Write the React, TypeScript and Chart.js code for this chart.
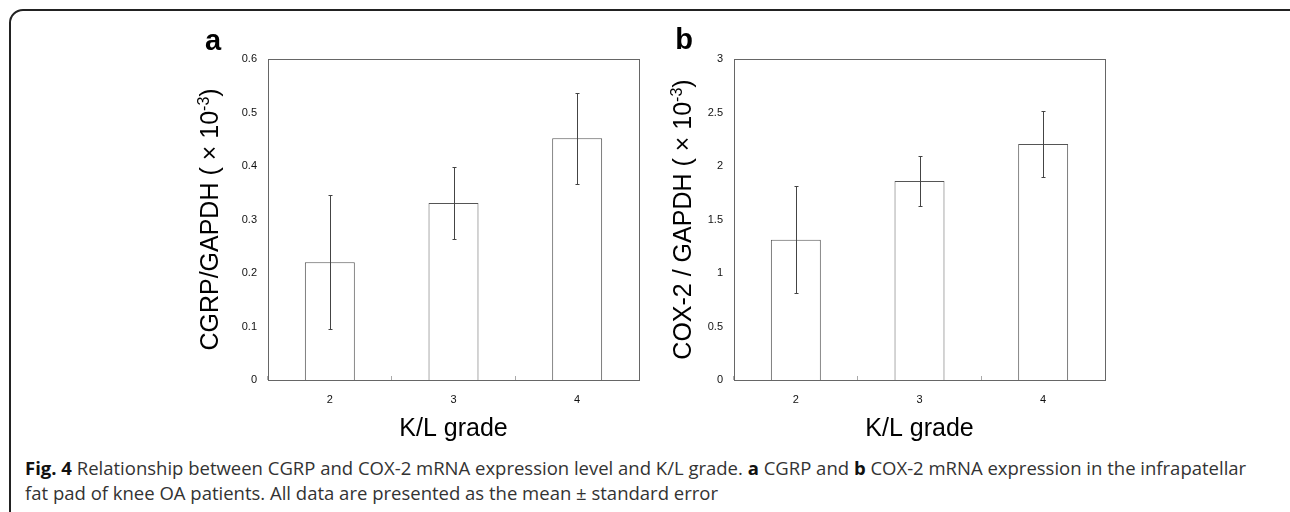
import React, { useEffect, useRef } from "react";
import { Chart, registerables } from "chart.js";

Chart.register(...registerables);

const categories = ["2", "3", "4"];
const cgrpMean = [0.22, 0.331, 0.452];
const cgrpErr = [0.125, 0.068, 0.085];
const cox2Mean = [1.31, 1.86, 2.205];
const cox2Err = [0.5, 0.23, 0.31];
const yTicksA = ["0", "0.1", "0.2", "0.3", "0.4", "0.5", "0.6"];
const yTicksB = ["0", "0.5", "1", "1.5", "2", "2.5", "3"];

const FONT = '"Liberation Sans", Arial, sans-serif';

const decorPlugin = {
  id: "decor",
  afterDatasetsDraw(chart: any, _args: any, opts: any) {
    const ctx = chart.ctx;
    const x = chart.scales.x;
    const y = chart.scales.y;
    ctx.save();
    ctx.strokeStyle = "#444";
    ctx.lineWidth = 1;
    opts.means.forEach((m: number, i: number) => {
      const px = Math.round(x.getPixelForValue(i)) + 0.5;
      const yHi = Math.round(y.getPixelForValue(m + opts.errs[i])) + 0.5;
      const yLo = Math.round(y.getPixelForValue(m - opts.errs[i])) + 0.5;
      ctx.beginPath();
      ctx.moveTo(px, yHi);
      ctx.lineTo(px, yLo);
      ctx.moveTo(px - 2, yHi);
      ctx.lineTo(px + 2, yHi);
      ctx.moveTo(px - 2, yLo);
      ctx.lineTo(px + 2, yLo);
      ctx.stroke();
    });
    ctx.restore();
  },
  afterDraw(chart: any, _args: any, opts: any) {
    const ctx = chart.ctx;
    const { left, top, right, bottom } = chart.chartArea;
    ctx.save();
    ctx.strokeStyle = "#666";
    ctx.lineWidth = 1;
    ctx.strokeRect(Math.round(left) + 0.5, Math.round(top) + 0.5, Math.round(right - left), Math.round(bottom - top));

    // panel label
    ctx.fillStyle = "#000";
    ctx.font = `bold 29px ${FONT}`;
    ctx.textAlign = "center";
    ctx.textBaseline = "alphabetic";
    ctx.fillText(opts.label, opts.labelX, opts.labelY);

    // y title with superscript
    const mainFont = `25px ${FONT}`;
    const supFont = `16px ${FONT}`;
    ctx.font = mainFont;
    const w1 = ctx.measureText(opts.titleMain).width;
    const w3 = ctx.measureText(")").width;
    ctx.font = supFont;
    const w2 = ctx.measureText(opts.titleSup).width;
    const total = w1 + w2 + w3;
    ctx.translate(opts.titleX, (top + bottom) / 2);
    ctx.rotate(-Math.PI / 2);
    ctx.textAlign = "left";
    let sx = -total / 2;
    const base = 9;
    ctx.font = mainFont;
    ctx.fillText(opts.titleMain, sx, base);
    sx += w1;
    ctx.font = supFont;
    ctx.fillText(opts.titleSup, sx, base - 9);
    sx += w2;
    ctx.font = mainFont;
    ctx.fillText(")", sx, base);
    ctx.restore();
  },
};

function makeConfig(means: number[], errs: number[], max: number, step: number, tickLabels: string[], decor: any) {
  return {
    type: "bar",
    data: {
      labels: categories,
      datasets: [
        {
          data: means,
          backgroundColor: "#ffffff",
          borderColor: "#555",
          borderWidth: 1,
          categoryPercentage: 1,
          barPercentage: 0.404,
        },
      ],
    },
    options: {
      responsive: false,
      animation: false,
      devicePixelRatio: 1,
      layout: { padding: { top: 39, right: 11, bottom: 0, left: 0 } },
      plugins: {
        legend: { display: false },
        tooltip: { enabled: false },
        decor: { means, errs, ...decor },
      },
      scales: {
        x: {
          grid: {
            display: true,
            drawOnChartArea: false,
            drawTicks: true,
            tickLength: -4,
            tickColor: "#aaa",
            offset: true,
          },
          border: { display: false },
          ticks: { color: "#111", font: { family: FONT, size: 11 }, padding: 17 },
          title: {
            display: true,
            text: "K/L grade",
            color: "#000",
            font: { family: FONT, size: 25 },
            padding: { top: 0, bottom: 6 },
          },
          afterFit: (s: any) => {
            s.height = 70;
          },
        },
        y: {
          min: 0,
          max,
          grid: { display: false, drawTicks: false },
          border: { display: false },
          ticks: {
            stepSize: step,
            color: "#111",
            font: { family: FONT, size: 11 },
            padding: 11,
            callback: (_v: any, i: number) => tickLabels[i],
          },
          afterFit: (s: any) => {
            s.width = 118;
          },
        },
      },
    },
    plugins: [decorPlugin],
  };
}

function Panel(props: { left: number; cfg: any }) {
  const ref = useRef<HTMLCanvasElement | null>(null);
  useEffect(() => {
    const chart = new Chart(ref.current as HTMLCanvasElement, props.cfg);
    return () => chart.destroy();
  }, []);
  return (
    <canvas
      ref={ref}
      width={500}
      height={430}
      style={{ position: "absolute", left: props.left, top: 20, width: 500, height: 430 }}
    />
  );
}

export default function App() {
  const cfgA = makeConfig(cgrpMean, cgrpErr, 0.6, 0.1, yTicksA, {
    label: "a",
    labelX: 63,
    labelY: 30,
    titleMain: "CGRP/GAPDH ( × 10",
    titleSup: "-3",
    titleX: 59,
  });
  const cfgB = makeConfig(cox2Mean, cox2Err, 3, 0.5, yTicksB, {
    label: "b",
    labelX: 68,
    labelY: 29,
    titleMain: "COX-2 / GAPDH ( × 10",
    titleSup: "-3",
    titleX: 66,
  });
  return (
    <div
      style={{
        position: "absolute",
        left: 0,
        top: 0,
        width: 1290,
        height: 512,
        overflow: "hidden",
        background: "#fff",
      }}
    >
      <div
        style={{
          position: "absolute",
          left: 9,
          top: 9,
          width: 1310,
          height: 540,
          border: "2px solid #222",
          borderRadius: 14,
          boxSizing: "border-box",
        }}
      />
      <Panel left={150} cfg={cfgA} />
      <Panel left={616} cfg={cfgB} />
      <div
        style={{
          position: "absolute",
          left: 25,
          top: 455,
          fontFamily: '"Open Sans", sans-serif',
          fontSize: 18.5,
          lineHeight: "25px",
          color: "#333",
          whiteSpace: "nowrap",
        }}
      >
        <b style={{ color: "#111" }}>Fig. 4</b> Relationship between CGRP and COX-2 mRNA expression level and K/L grade.{" "}
        <b style={{ color: "#111" }}>a</b> CGRP and <b style={{ color: "#111" }}>b</b> COX-2 mRNA expression in the infrapatellar
        <br />
        fat pad of knee OA patients. All data are presented as the mean ± standard error
      </div>
    </div>
  );
}
